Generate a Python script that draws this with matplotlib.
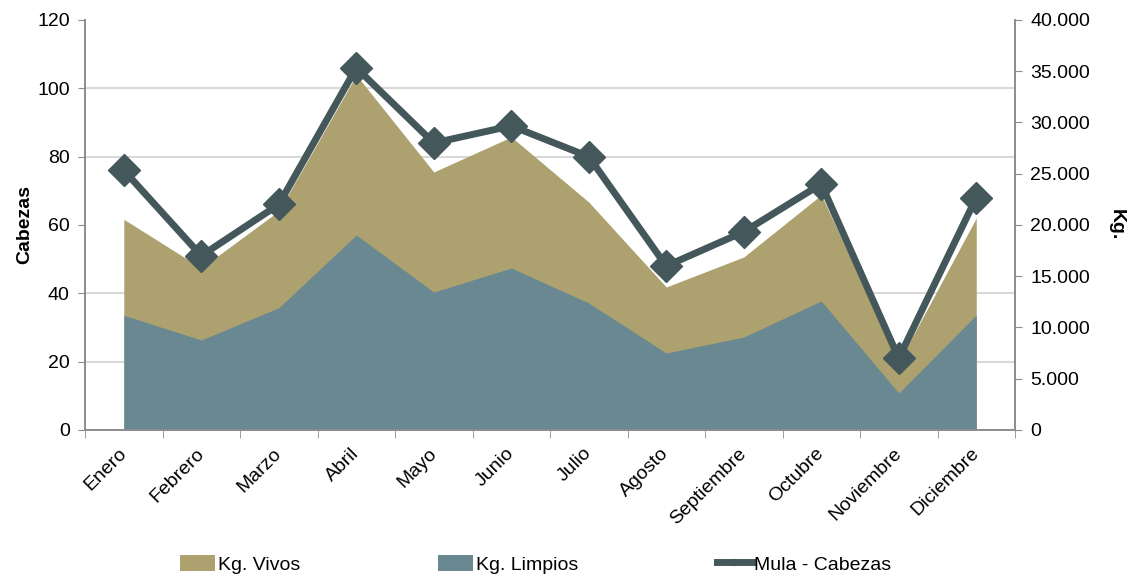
import matplotlib
matplotlib.use('Agg')
import matplotlib.pyplot as plt
import numpy as np

plt.rcParams['font.family'] = ['Liberation Sans', 'DejaVu Sans']

meses = ['Enero', 'Febrero', 'Marzo', 'Abril', 'Mayo', 'Junio', 'Julio',
         'Agosto', 'Septiembre', 'Octubre', 'Noviembre', 'Diciembre']
kg_vivos = [20560, 15800, 21370, 34630, 25170, 28590, 22240,
            13950, 16880, 22930, 6630, 20680]
kg_limpios = [11190, 8780, 11930, 19020, 13460, 15800, 12390,
              7510, 9070, 12590, 3610, 11220]
cabezas = [76, 51, 66, 106, 84, 89, 80, 48, 58, 72, 21, 68]

cab_ticks = [0, 20, 40, 60, 80, 100, 120]
kg_ticks = [0, 5000, 10000, 15000, 20000, 25000, 30000, 35000, 40000]

c_vivos = '#ada26f'
c_limpios = '#6a8892'
c_linea = '#44585c'
c_eje = '#8c8c8c'
fs = 14

fig = plt.figure(figsize=(11.37, 5.84), dpi=100)
ax = fig.add_axes([0.0748, 0.2637, 0.8179, 0.7021])
ax2 = ax.twinx()

x = np.arange(len(meses))

# areas on the Kg axis (behind)
ax2.fill_between(x, 0, kg_vivos, color=c_vivos, linewidth=0, label='Kg. Vivos')
ax2.fill_between(x, 0, kg_limpios, color=c_limpios, linewidth=0, label='Kg. Limpios')
ax2.set_ylim(0, 40000)
ax2.set_yticks(kg_ticks)
ax2.set_yticklabels([f'{v:,}'.replace(',', '.') for v in kg_ticks])
# gridlines follow the Cabezas ticks, drawn behind the areas
ax2.set_yticks([t * 40000 / 120 for t in cab_ticks], minor=True)
ax2.grid(True, which='minor', axis='y', color='#d9d9d9', linewidth=1.5, zorder=0)
ax2.set_axisbelow(True)
ax2.tick_params(axis='y', which='minor', length=0)
ax2.tick_params(axis='y', which='major', direction='out', length=5,
                color=c_eje, labelsize=fs, pad=6)
ax2.set_ylabel('Kg.', fontweight='bold', fontsize=fs, rotation=270, labelpad=25)

# line on the Cabezas axis (front)
ax.set_zorder(ax2.get_zorder() + 1)
ax.patch.set_visible(False)
ax.plot(x, cabezas, color=c_linea, linewidth=5, marker='D', markersize=16,
        markeredgecolor=c_linea, label='Mula - Cabezas', solid_joinstyle='miter')
ax.set_ylim(0, 120)
ax.set_yticks(cab_ticks)
ax.set_xlim(-0.5, len(meses) - 0.5)
ax.set_ylabel('Cabezas', fontweight='bold', fontsize=fs, labelpad=3)
ax.tick_params(axis='y', direction='out', length=5, color=c_eje,
               labelsize=fs, pad=6)

ax.set_xticks(x)
ax.set_xticklabels(meses, rotation=45, ha='right', va='center',
                   rotation_mode='anchor', fontsize=fs)
ax.set_xticks(np.arange(-0.5, len(meses)), minor=True)
ax.tick_params(axis='x', which='major', length=0, pad=15)
ax.tick_params(axis='x', which='minor', direction='out', length=6, color=c_eje)

for a in (ax, ax2):
    a.spines['top'].set_visible(False)
    for s in ('left', 'right', 'bottom'):
        a.spines[s].set_color(c_eje)
        a.spines[s].set_linewidth(1.2)

h1, l1 = ax2.get_legend_handles_labels()
h2, l2 = ax.get_legend_handles_labels()
fig.legend(h1 + h2, l1 + l2, loc='lower left', bbox_to_anchor=(0.143, -0.012),
           ncol=3, frameon=False, fontsize=fs, columnspacing=7.1,
           handlelength=1.8, handleheight=0.9, handletextpad=0.15,
           markerscale=0.2)

fig.savefig('out.png', dpi=100)
